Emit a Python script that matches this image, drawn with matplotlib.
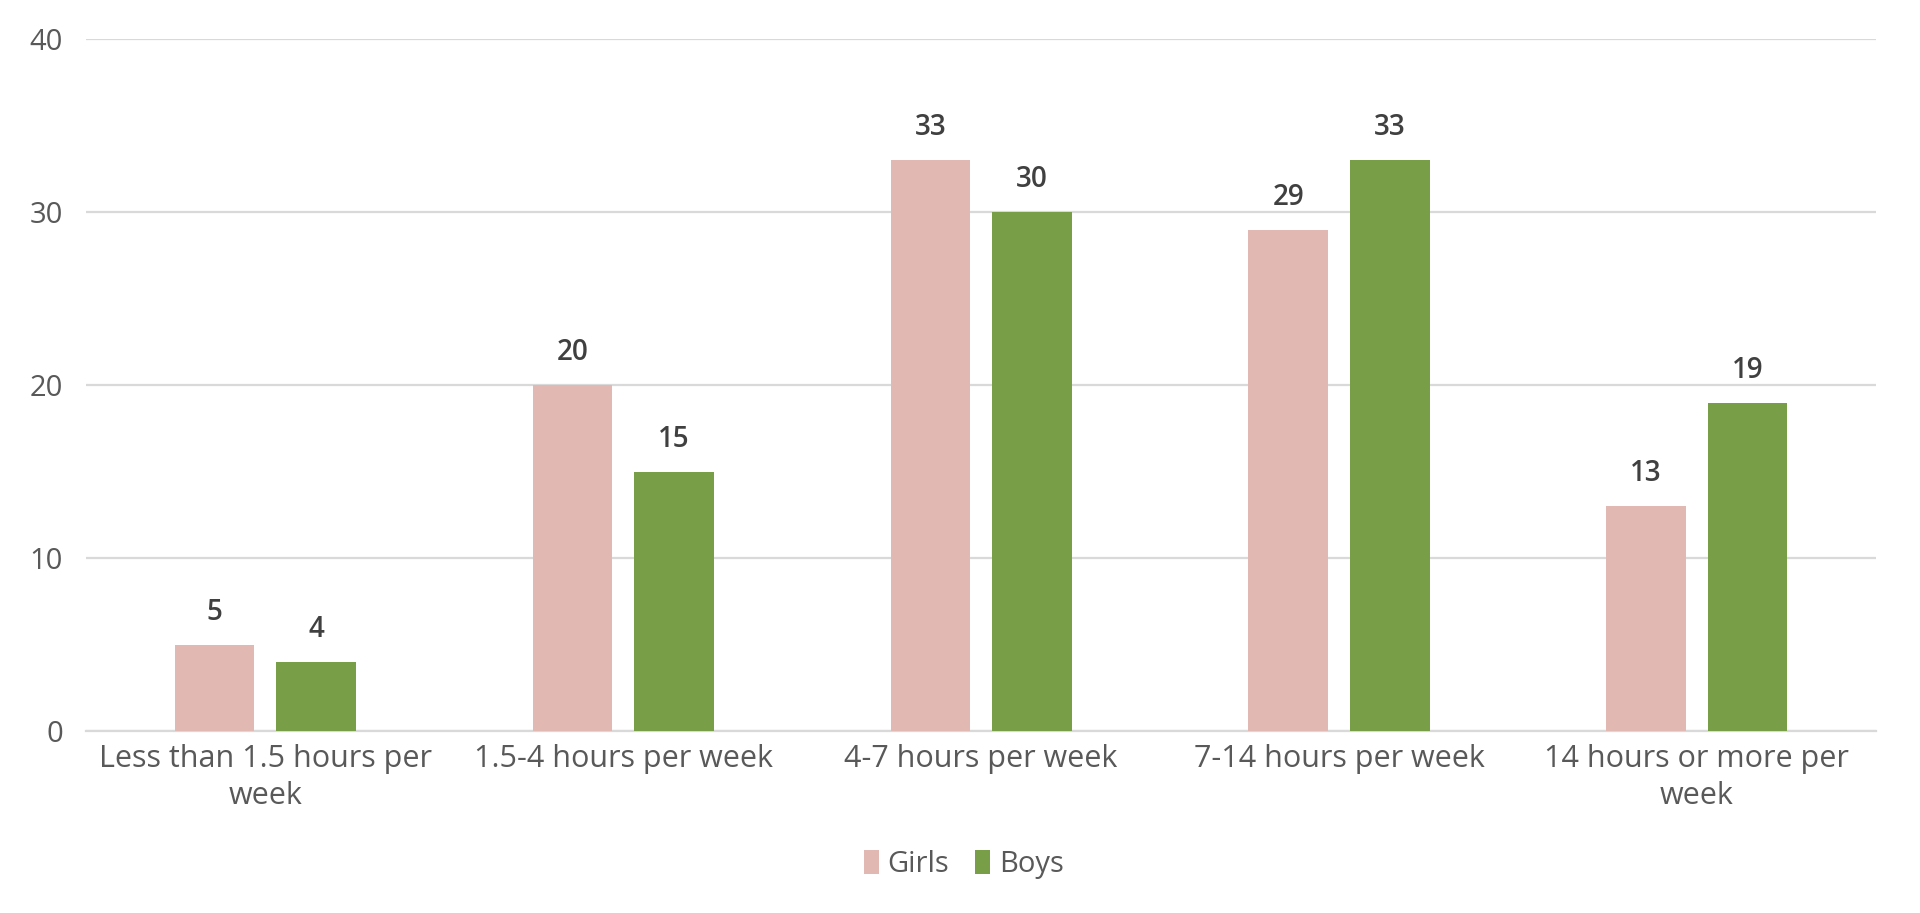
import matplotlib
matplotlib.use("Agg")
import matplotlib.pyplot as plt
import numpy as np

categories = ["Less than 1.5 hours per\nweek", "1.5-4 hours per week", "4-7 hours per week",
              "7-14 hours per week", "14 hours or more per\nweek"]
girls = [5, 20, 33, 29, 13]
boys = [4, 15, 30, 33, 19]
yticks = [0, 10, 20, 30, 40]

plt.rcParams['font.family'] = ['Open Sans', 'DejaVu Sans']

fig = plt.figure(figsize=(19.2, 9.13), dpi=100)
ax = fig.add_axes([0.045, 0.199, 0.932, 0.758])

x = np.arange(len(categories))
w = 0.222
off = 0.142
c_girls = "#E2B9B2"
c_boys = "#789E47"
b1 = ax.bar(x - off, girls, w, color=c_girls, label="Girls", zorder=3)
b2 = ax.bar(x + off, boys, w, color=c_boys, label="Boys", zorder=3)

for bars, vals in ((b1, girls), (b2, boys)):
    for r, v in zip(bars, vals):
        ax.annotate(str(v), (r.get_x() + r.get_width() / 2, v), xytext=(0, 13),
                    textcoords="offset points", ha="center", va="bottom",
                    fontsize=20, color="#404040", fontweight="semibold")

ax.set_xlim(-0.5, 4.5)
ax.set_ylim(0, 40)
ax.set_yticks(yticks)
ax.set_xticks(x)
ax.set_xticklabels(categories, fontsize=22, color="#595959", linespacing=1.3)
ax.tick_params(axis='y', labelsize=21, labelcolor="#595959", length=0, pad=17)
ax.tick_params(axis='x', length=0, pad=9)
ax.yaxis.grid(True, color="#D9D9D9", linewidth=1.6, zorder=0)
for s in ["top", "right", "left"]:
    ax.spines[s].set_visible(False)
ax.spines["bottom"].set_color("#D9D9D9")
ax.spines["bottom"].set_linewidth(1.6)

leg = fig.legend(handles=[b1, b2], labels=["Girls", "Boys"], loc="center",
                 bbox_to_anchor=(0.502, 0.053), ncol=2, frameon=False,
                 fontsize=21, handlelength=0.5, handleheight=0.9,
                 handletextpad=0.3, columnspacing=0.9)
for t in leg.get_texts():
    t.set_color("#595959")

fig.savefig("out.png", dpi=100)
